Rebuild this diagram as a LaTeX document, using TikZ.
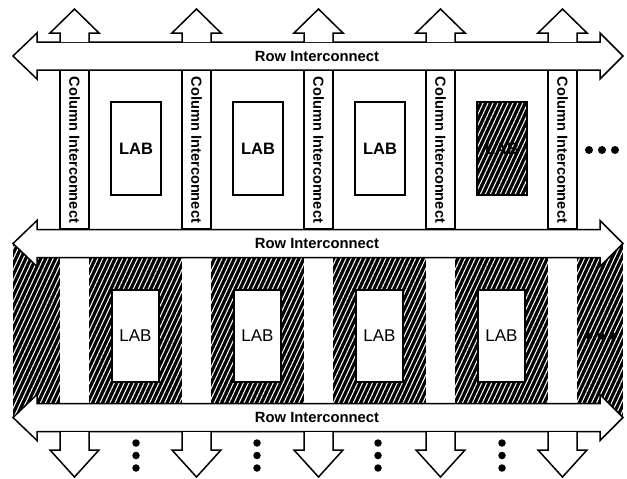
\documentclass[tikz,border=0pt]{standalone}
\usepackage{fontspec}
\setmainfont{Liberation Sans}
\usetikzlibrary{patterns.meta}

\begin{document}
\begin{tikzpicture}[x=1pt,y=-1pt,line width=1.5pt,line join=miter,
  hatch/.style={preaction={fill=black},
    pattern={Lines[angle=65,distance=4.5pt,line width=1.05pt]},pattern color=white},
  strip/.style={fill=white,draw=none},
  labbox/.style={draw,fill=white},
  rowlbl/.style={font=\fontsize{14.8}{16}\selectfont\bfseries,inner sep=0pt},
  collbl/.style={font=\fontsize{14.6}{16}\selectfont\bfseries,inner sep=0pt,rotate=-90},
  lablbl/.style={font=\fontsize{16.5}{18}\selectfont\bfseries,inner sep=0pt},
  lablblm/.style={font=\fontsize{17}{18}\selectfont,inner sep=0pt},
  dot/.style={circle,fill=black,inner sep=0pt,minimum size=7.5pt},
  pics/rowarrow/.style={code={
    \draw[fill=white] (13,0) -- (37,-23) -- (37,-14) -- (600,-14) -- (600,-23)
      -- (623,0) -- (600,23) -- (600,14) -- (37,14) -- (37,23) -- cycle;}},
  pics/uparrow/.style={code={
    \draw[fill=white] (0,0) -- (0,-9) -- (-10,-9) -- (14.5,-33) -- (39,-9)
      -- (29,-9) -- (29,0);}},
  pics/downarrow/.style={code={
    \draw[fill=white] (0,0) -- (0,18) -- (-10,18) -- (14.5,45) -- (39,18)
      -- (29,18) -- (29,0);}}]
\useasboundingbox (0,0) rectangle (627,479);

% hatched (unused) row of LABs
\path[hatch] (13,243) rectangle (623,418);
\foreach \c in {60,182,304,426,548}
  \path[strip] (\c,258) rectangle (\c+29,403);
\foreach \c/\n in {60/1,182/2,304/3,426/4}
  \node[labbox,minimum width=47pt,minimum height=92pt,inner sep=0pt]
    (mlab\n) at (\c+75.5,336) {};
\foreach \n in {1,...,4}
  \node[lablblm] (mlabt\n) at (mlab\n) {LAB};
\node[dot,minimum size=7pt] (md1) at (589,336) {};
\node[dot,minimum size=7pt] (md2) at (601,336) {};
\node[dot,minimum size=7pt] (md3) at (613,336) {};

% upper row: column interconnect strips and LABs
\foreach \c/\n in {60/1,182/2,304/3,426/4,548/5}
  \draw[fill=white] (\c,70) rectangle (\c+29,229);
\foreach \c/\n in {60/1,182/2,304/3}
  \node[labbox,minimum width=50pt,minimum height=93pt,inner sep=0pt]
    (tlab\n) at (\c+76,148.5) {};
\node[draw,hatch,minimum width=50pt,minimum height=93pt,inner sep=0pt]
  (tlab4) at (426+76,148.5) {};
\foreach \n in {1,...,4}
  \node[lablbl] (tlabt\n) at (tlab\n) {LAB};
\foreach \c/\n in {60/1,182/2,304/3,426/4,548/5}
  \node[collbl] (cint\n) at (\c+14.5,150) {Column Interconnect};
\node[dot,minimum size=8pt] (td1) at (589,150) {};
\node[dot,minimum size=8pt] (td2) at (602,150) {};
\node[dot,minimum size=8pt] (td3) at (615,150) {};

% row interconnects
\pic at (0,56) {rowarrow};
\pic at (0,243.5) {rowarrow};
\pic at (0,417.5) {rowarrow};
\node[rowlbl] (row1) at (317,56) {Row Interconnect};
\node[rowlbl] (row2) at (317,243.5) {Row Interconnect};
\node[rowlbl] (row3) at (317,417.5) {Row Interconnect};

% vertical connections off the array
\foreach \c in {60,182,304,426,548} {
  \pic at (\c,42) {uparrow};
  \pic at (\c,432) {downarrow};
}
\foreach \x/\n in {136/1,257/2,378/3,502/4} {
  \node[dot] (bd\n a) at (\x,443) {};
  \node[dot] (bd\n b) at (\x,455.5) {};
  \node[dot] (bd\n c) at (\x,468) {};
}
\end{tikzpicture}
\end{document}
